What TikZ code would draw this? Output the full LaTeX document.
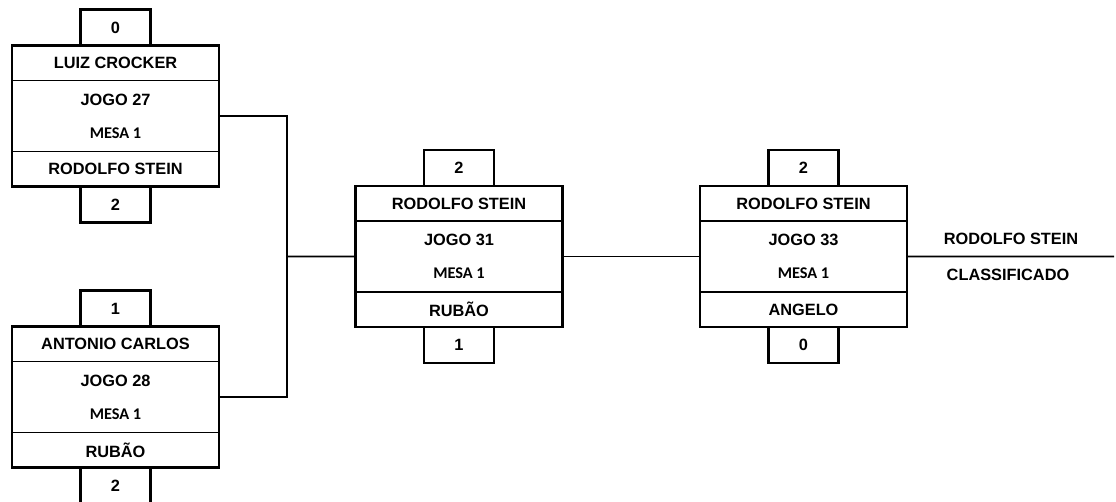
\documentclass[tikz,border=0pt]{standalone}
\usepackage{fontspec}
\setmainfont{Liberation Sans}
\newfontfamily\mesafont{Carlito}
\usepackage{tikz}
\usetikzlibrary{positioning}

\begin{document}
\begin{tikzpicture}[x=0.02cm, y=-0.02cm,
        font=\fontsize{9.3}{11}\selectfont\bfseries,
        jogador/.style={rectangle, draw, line width=0.6pt, minimum width=4.14cm, minimum height=0.7cm, inner sep=0pt, outer sep=0pt},
        jogo/.style={rectangle, draw, line width=0.6pt, align=center, minimum width=4.14cm, minimum height=1.42cm, inner sep=0pt, outer sep=0pt},
        placar/.style={rectangle, draw, line width=1.3pt, minimum width=1.4cm, minimum height=0.72cm, inner sep=0pt, outer sep=0pt},
        borda/.style={line width=1.3pt},
        liga/.style={line width=1.1pt}]

        \useasboundingbox (0,0) rectangle (1116,502);
        \clip (0,0) rectangle (1116,502);

        % Jogo 27
        \node[jogador] (j27a) at (115.5,63) {LUIZ CROCKER};
        \node[jogo, below=0pt of j27a] (j27) {JOGO 27\\[7.8pt]{\mesafont MESA 1}};
        \node[jogador, below=0pt of j27] (j27b) {RODOLFO STEIN};
        \node[placar, above=0pt of j27a] (p27a) {0};
        \node[placar, below=0pt of j27b] (p27b) {2};
        \draw[borda] (j27a.north west) rectangle (j27b.south east);

        % Jogo 28
        \node[jogador] (j28a) at (115.5,344) {ANTONIO CARLOS};
        \node[jogo, below=0pt of j28a] (j28) {JOGO 28\\[7.8pt]{\mesafont MESA 1}};
        \node[jogador, below=0pt of j28] (j28b) {RUBÃO};
        \node[placar, above=0pt of j28a] (p28a) {1};
        \node[placar, below=0pt of j28b] (p28b) {2};
        \draw[borda] (j28a.north west) rectangle (j28b.south east);

        % Jogo 31
        \node[jogador] (j31a) at (459,203.5) {RODOLFO STEIN};
        \node[jogo, below=0pt of j31a] (j31) {JOGO 31\\[7.8pt]{\mesafont MESA 1}};
        \node[jogador, below=0pt of j31] (j31b) {RUBÃO};
        \node[placar, above=0pt of j31a] (p31a) {2};
        \node[placar, below=0pt of j31b] (p31b) {1};
        \draw[borda] (j31a.north west) rectangle (j31b.south east);

        % Jogo 33
        \node[jogador] (j33a) at (803.5,203.5) {RODOLFO STEIN};
        \node[jogo, below=0pt of j33a] (j33) {JOGO 33\\[7.8pt]{\mesafont MESA 1}};
        \node[jogador, below=0pt of j33] (j33b) {ANGELO};
        \node[placar, above=0pt of j33a] (p33a) {2};
        \node[placar, below=0pt of j33b] (p33b) {0};
        \draw[borda] (j33a.north west) rectangle (j33b.south east);

        % Resultado
        \coordinate (elo) at (287,256.5);
        \coordinate (fim) at (1114,256.5);
        \node (vencedor) at (1011,239) {RODOLFO STEIN};
        \node (status) at (1008,275) {CLASSIFICADO};

        % Ligacoes
        \draw[liga] (j27.east) -| (elo) |- (j28.east);
        \draw[liga] (elo) -- (j31.west);
        \draw[liga] (j31.east) -- (j33.west);
        \draw[liga] (j33.east) -- (fim);

    \end{tikzpicture}
\end{document}
